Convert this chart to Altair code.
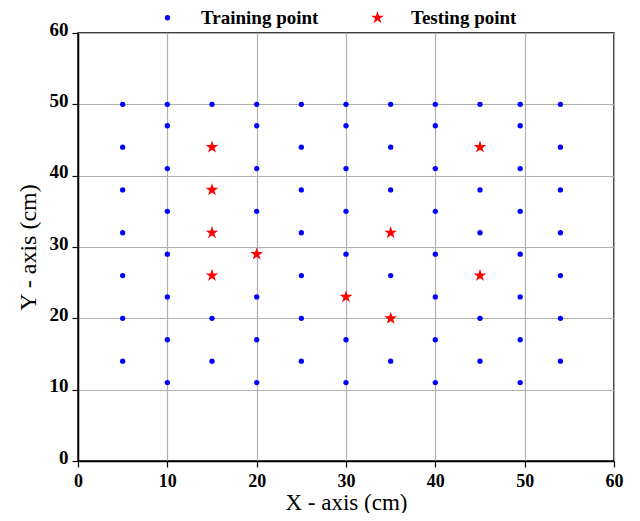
import altair as alt
import pandas as pd

# Training points
train_x = [5]*7 + [10]*8 + [15]*3 + [20]*7 + [25]*7 + [30]*7 + [35]*5 + [40]*8 + [45]*5 + [49.5]*8 + [54]*7
train_y = ([50, 44, 38, 32, 26, 20, 14] +
           [50, 47, 41, 35, 29, 23, 17, 11] +
           [50, 20, 14] +
           [50, 47, 41, 35, 23, 17, 11] +
           [50, 44, 38, 32, 26, 20, 14] +
           [50, 47, 41, 35, 29, 17, 11] +
           [50, 44, 38, 26, 14] +
           [50, 47, 41, 35, 29, 23, 17, 11] +
           [50, 38, 32, 20, 14] +
           [50, 47, 41, 35, 29, 23, 17, 11] +
           [50, 44, 38, 32, 26, 20, 14])

# Testing points
test_x = [15, 15, 15, 15, 20, 30, 35, 35, 45, 45]
test_y = [44, 38, 32, 26, 29, 23, 32, 20, 44, 26]

categories = ["Training point", "Testing point"]
ticks = [0, 10, 20, 30, 40, 50, 60]

df = pd.DataFrame({
    "x": train_x + test_x,
    "y": train_y + test_y,
    "type": [categories[0]] * len(train_x) + [categories[1]] * len(test_x),
})

star = ("M0,-1L0.2245,-0.309L0.9511,-0.309L0.3633,0.118L0.5878,0.809L0,0.382"
        "L-0.5878,0.809L-0.3633,0.118L-0.9511,-0.309L-0.2245,-0.309Z")

font = "Liberation Serif"

chart = alt.Chart(df).mark_point(filled=True, opacity=1).encode(
    x=alt.X("x:Q", scale=alt.Scale(domain=[0, 60], nice=False),
            axis=alt.Axis(values=ticks, title="X - axis (cm)")),
    y=alt.Y("y:Q", scale=alt.Scale(domain=[0, 60], nice=False),
            axis=alt.Axis(values=ticks, title="Y - axis (cm)")),
    color=alt.Color("type:N", scale=alt.Scale(domain=categories, range=["#0000ff", "#ff0000"]),
                    legend=alt.Legend(title=None, orient="none", direction="horizontal",
                                      legendX=80, legendY=-25, columnPadding=49,
                                      labelOffset=24)),
    shape=alt.Shape("type:N", scale=alt.Scale(domain=categories, range=["circle", star])),
    size=alt.Size("type:N", scale=alt.Scale(domain=categories, range=[28, 180]), legend=None),
).properties(
    width=536, height=428,
    autosize="none",
    padding={"left": 70, "top": 25, "right": 18, "bottom": 52},
).configure_view(
    stroke="black", strokeWidth=1.5
).configure_axis(
    labelFont=font, labelFontWeight="bold", labelFontSize=19, labelColor="black",
    titleFont=font, titleFontWeight="normal", titleFontSize=24, titleColor="black",
    grid=True, gridColor="#b0b0b0", gridWidth=1.2,
    domainColor="black", domainWidth=1.5,
    tickColor="black", tickSize=6, tickWidth=1.2,
    labelFlush=False,
).configure_axisX(
    labelPadding=5, titlePadding=1, titleFontSize=23, labelFontSize=18
).configure_axisY(
    labelPadding=4, titlePadding=9, labelOffset=-4
).configure_legend(
    labelFont=font, labelFontWeight="bold", labelFontSize=19, labelColor="black",
    labelLimit=400
)

chart.save("out.html", embed_options={"renderer": "svg", "actions": False})
